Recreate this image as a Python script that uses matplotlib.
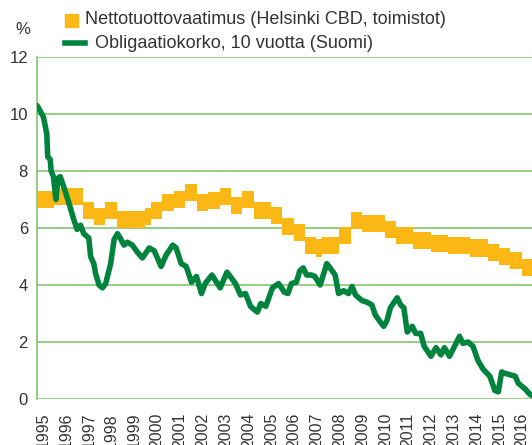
import numpy as np
import matplotlib.pyplot as plt
from matplotlib.patches import Rectangle
from matplotlib.lines import Line2D

plt.rcParams['font.family'] = ['Liberation Sans', 'DejaVu Sans']

# net yield requirement, Helsinki CBD offices (quarterly, from 1995 Q1)
yield_start = 1995.0
yield_vals = [7.0, 7.0, 7.0, 7.1, 7.1, 7.1, 7.1, 7.1,
              6.6, 6.6, 6.4, 6.4, 6.6, 6.6, 6.3, 6.3,
              6.3, 6.3, 6.3, 6.4, 6.6, 6.6, 6.9, 6.9,
              7.0, 7.0, 7.25, 7.25, 6.9, 6.9, 6.95, 6.95,
              7.1, 7.1, 6.8, 6.8, 7.0, 7.0, 6.6, 6.6,
              6.6, 6.45, 6.45, 6.05, 6.05, 5.85, 5.85, 5.4,
              5.4, 5.3, 5.4, 5.4, 5.4, 5.75, 5.75, 6.25,
              6.25, 6.15, 6.15, 6.15, 6.15, 5.95, 5.95, 5.75,
              5.75, 5.75, 5.55, 5.55, 5.55, 5.45, 5.45, 5.45,
              5.4, 5.4, 5.4, 5.4, 5.3, 5.3, 5.3, 5.15,
              5.15, 5.0, 5.0, 4.85, 4.85, 4.6, 4.6, 4.6]

# 10-year government bond yield, Finland
bond_t = [1995.00, 1995.28, 1995.43, 1995.47, 1995.58, 1995.62, 1995.72, 1995.83,
          1995.92, 1996.02, 1996.17, 1996.39, 1996.61, 1996.76, 1996.91, 1997.05,
          1997.27, 1997.35, 1997.49, 1997.57, 1997.72, 1997.87, 1998.01, 1998.23,
          1998.38, 1998.53, 1998.68, 1998.81, 1998.96, 1999.18, 1999.40, 1999.62,
          1999.92, 2000.14, 2000.44, 2000.66, 2000.95, 2001.10, 2001.32, 2001.54,
          2001.77, 2001.99, 2002.21, 2002.37, 2002.67, 2003.03, 2003.33, 2003.70,
          2003.92, 2004.14, 2004.36, 2004.66, 2004.81, 2005.03, 2005.32, 2005.59,
          2005.84, 2006.00, 2006.15, 2006.37, 2006.52, 2006.67, 2006.82, 2007.04,
          2007.18, 2007.41, 2007.55, 2007.70, 2007.85, 2008.07, 2008.22, 2008.44,
          2008.66, 2008.81, 2008.96, 2009.25, 2009.46, 2009.68, 2009.83, 2010.05,
          2010.20, 2010.34, 2010.49, 2010.79, 2010.94, 2011.08, 2011.23, 2011.45,
          2011.60, 2011.82, 2011.97, 2012.27, 2012.49, 2012.71, 2012.86, 2013.08,
          2013.37, 2013.52, 2013.67, 2013.89, 2014.11, 2014.33, 2014.55, 2014.85,
          2015.07, 2015.22, 2015.37, 2015.51, 2015.74, 2015.96, 2016.10, 2016.40,
          2016.62, 2016.84]
bond_v = [10.3, 9.9, 9.3, 8.5, 8.4, 8.0, 7.8, 7.0,
          7.75, 7.8, 7.45, 6.9, 6.3, 5.95, 6.1, 5.8,
          5.65, 5.0, 4.75, 4.4, 4.0, 3.9, 4.05, 4.75,
          5.6, 5.8, 5.6, 5.4, 5.5, 5.4, 5.15, 4.95,
          5.3, 5.2, 4.65, 5.05, 5.4, 5.3, 4.75, 4.65,
          4.1, 4.3, 3.7, 4.05, 4.35, 3.9, 4.45, 4.05,
          3.65, 3.7, 3.25, 3.05, 3.35, 3.25, 3.9, 4.05,
          3.75, 3.7, 4.05, 4.1, 4.5, 4.6, 4.35, 4.35,
          4.3, 4.0, 4.35, 4.75, 4.6, 4.35, 3.7, 3.8,
          3.7, 3.95, 3.65, 3.45, 3.4, 3.3, 2.95, 2.7,
          2.55, 2.75, 3.2, 3.55, 3.3, 3.2, 2.35, 2.55,
          2.3, 2.3, 1.85, 1.5, 1.8, 1.55, 1.8, 1.5,
          1.95, 2.2, 1.95, 2.0, 1.85, 1.35, 1.05, 0.8,
          0.3, 0.25, 0.95, 0.9, 0.85, 0.8, 0.55, 0.35,
          0.15, 0.1]

years = list(range(1995, 2017))
yticks = [0, 2, 4, 6, 8, 10, 12]

yellow = '#fbb814'
green = '#00843d'
grid_c = '#8cc97c'
text_c = '#333333'

fig = plt.figure(figsize=(5.32, 4.45), dpi=100)
ax = fig.add_axes([37 / 532, 1 - 399 / 445, 1 - 37 / 532 + 0.01, (399 - 57) / 445])

yt = yield_start + 0.25 * np.arange(len(yield_vals) + 1)
yv = np.array(yield_vals + [yield_vals[-1]])
ax.fill_between(yt, yv - 0.3, yv + 0.3, step='post', color=yellow, lw=0, zorder=2)

ax.plot(bond_t, bond_v, color=green, lw=4, solid_joinstyle='round',
        solid_capstyle='round', zorder=3)

ax.set_xlim(1995.0, 1995 + (532 - 37) / 22.57)
ax.set_ylim(0, 12)
ax.set_yticks(yticks)
ax.set_yticklabels([str(v) for v in yticks], fontsize=12, color=text_c)
ax.set_xticks(np.array(years) + 0.27)
ax.set_xticklabels([str(y) for y in years], rotation=90, fontsize=11.5,
                   color=text_c, va='top')
ax.tick_params(axis='both', length=0)
ax.tick_params(axis='y', pad=6.5)
ax.tick_params(axis='x', pad=10)
ax.grid(axis='y', color=grid_c, lw=1.3, zorder=1)
for s in ['top', 'right', 'bottom']:
    ax.spines[s].set_visible(False)
ax.spines['left'].set_color(grid_c)
ax.spines['left'].set_linewidth(1.3)

# legend drawn by hand
fig.add_artist(Rectangle((65 / 532, 1 - 27 / 445), 13 / 532, 13 / 445,
                         color=yellow, transform=fig.transFigure))
fig.add_artist(Line2D([65 / 532, 85 / 532], [1 - 43 / 445, 1 - 43 / 445],
                      color=green, lw=4, transform=fig.transFigure))
fig.text(85 / 532, 1 - 20 / 445, 'Nettotuottovaatimus (Helsinki CBD, toimistot)',
         fontsize=13, color=text_c, va='center', ha='left')
fig.text(95 / 532, 1 - 43 / 445, 'Obligaatiokorko, 10 vuotta (Suomi)',
         fontsize=13, color=text_c, va='center', ha='left')
fig.text(23 / 532, 1 - 30 / 445, '%', fontsize=12, color=text_c,
         va='center', ha='center')

fig.savefig('out.png', dpi=100)
